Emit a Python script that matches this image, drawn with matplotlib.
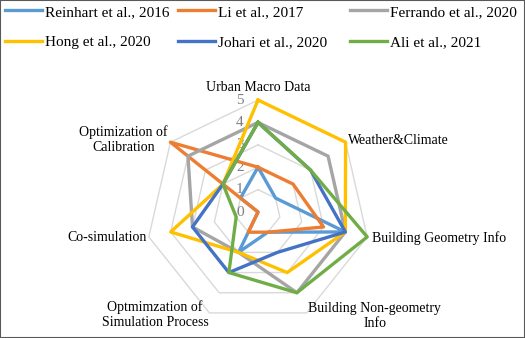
import numpy as np
import matplotlib
matplotlib.use("Agg")
import matplotlib.pyplot as plt
from matplotlib.lines import Line2D
from matplotlib.patches import Rectangle

plt.rcParams['font.family'] = ['Liberation Serif', 'DejaVu Serif']

categories = ["Urban Macro Data", "Weather&Climate", "Building Geometry Info",
              "Building Non-geometry\nInfo", "Optmimzation of\nSimulation Process",
              "Co-simulation", "Optimization of\nCalibration"]

reinhart = [2, 1, 4, 1, 2, 0, 1]
li = [2, 2, 3, 1, 1, 0, 5]
ferrando = [4, 4, 4, 4, 2, 3, 4]
hong = [5, 5, 4, 3, 2, 4, 2]
johari = [4, 3, 4, 2, 3, 3, 2]
ali = [4, 3, 5, 4, 3, 1, 2]

series_names = ["Reinhart et al., 2016", "Li et al., 2017", "Ferrando et al., 2020",
                "Hong et al., 2020", "Johari et al., 2020", "Ali et al., 2021"]
series_values = [reinhart, li, ferrando, hong, johari, ali]
colors = ["#5B9BD5", "#ED7D31", "#A5A5A5", "#FFC000", "#4472C4", "#70AD47"]

ticks = [0, 1, 2, 3, 4, 5]

fig = plt.figure(figsize=(5.25, 3.38), dpi=100)
ax = fig.add_axes([0.2781, 0.0414, 0.4267, 0.6627], projection='polar')
ax.set_theta_offset(np.pi / 2)
ax.set_theta_direction(-1)
ax.set_ylim(0, 5)
ax.set_xticks([])
ax.set_yticks([])
ax.grid(False)
ax.spines['polar'].set_visible(False)
ax.patch.set_visible(False)

n = len(categories)
theta = np.linspace(0, 2 * np.pi, n, endpoint=False)
theta_c = np.append(theta, theta[0])

# heptagon rings
for r in ticks[1:]:
    ax.plot(theta_c, [r] * (n + 1), color="#D9D9D9", lw=1, clip_on=False, zorder=1)

for vals, c in zip(series_values, colors):
    ax.plot(theta_c, vals + vals[:1], color=c, lw=2.4, clip_on=False, zorder=3)

for t in ticks:
    ax.annotate(str(t), (0, t), xytext=(-13, 0), textcoords='offset points',
                ha='center', va='center', fontsize=11, color="#7F7F7F", zorder=2)

# category labels around the chart
label_pos = [(5.58, 'center'), (5.15, 'left'), (5.2, 'left'), (5.15, 'left'),
             (5.1, 'right'), (5.1, 'right'), (5.15, 'right')]
for ang, name, (r, ha) in zip(theta, categories, label_pos):
    ax.text(ang, r, name, ha=ha, va='center', multialignment='center',
            fontsize=10, color='black')

# legend, three equal columns
handles = [Line2D([], [], color=c, lw=2.4) for c in colors]
col_x = [5, 178, 350]
for i, x in enumerate(col_x):
    idx = [i, i + 3]
    fig.legend([handles[j] for j in idx], [series_names[j] for j in idx],
               loc='upper left', bbox_to_anchor=(x / 525, 1 - 5 / 338),
               frameon=False, ncol=1, fontsize=11, borderpad=0, borderaxespad=0,
               handlelength=2.42, handletextpad=0.2, labelspacing=1.1)

fig.patches.append(Rectangle((0, 0), 1, 1, transform=fig.transFigure, fill=False,
                             edgecolor="#595959", lw=1.5))

fig.savefig("out.png", dpi=100)
